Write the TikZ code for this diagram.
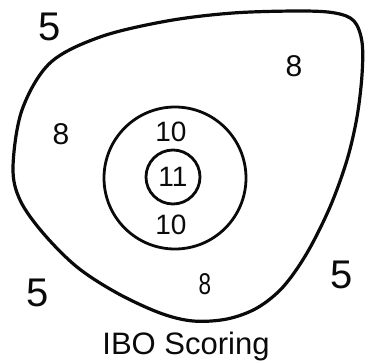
\documentclass[tikz,border=0pt]{standalone}
\usepackage{fontspec}
\setmainfont{Liberation Sans}
\usetikzlibrary{positioning}
\definecolor{inkBlack}{RGB}{10,10,10}
\tikzset{
  rim/.style={draw=inkBlack, line width=3.2pt, line join=round},
  ring/.style={circle, draw=inkBlack, line width=2.8pt, inner sep=0pt},
  bigscore/.style={inner sep=0pt, text=inkBlack, font=\fontsize{40}{40}\selectfont},
  score/.style={inner sep=0pt, text=inkBlack, font=\fontsize{30}{30}\selectfont},
  ringscore/.style={inner sep=0pt, text=inkBlack, font=\fontsize{28}{28}\selectfont},
  caption/.style={inner sep=0pt, text=inkBlack, font=\fontsize{31}{31}\selectfont}
}
\begin{document}
\begin{tikzpicture}[x=1pt, y=-1pt]
\useasboundingbox (0,0) rectangle (365,362);
% outer scoring area
\draw[rim] plot[smooth cycle, tension=0.55] coordinates {
  (13,167) (22,110) (50,63) (100,37) (167,21) (233,13) (300,11) (335,13)
  (354,21) (362,42) (362,75) (357,117) (347,160) (330,207) (307,253)
  (283,287) (257,308) (227,319) (193,321) (160,313) (117,293) (77,267)
  (43,233) (20,200)};
% rings
\node[ring, minimum size=142pt] (ten) at (175,178) {};
\node[ring, minimum size=54pt] (eleven) at (173,177) {};
% scores
\node[ringscore] (s11) at (eleven.center) {11};
\node[ringscore] (s10a) at (171,132) {10};
\node[ringscore] (s10b) at (171,225) {10};
\node[score] (s8a) at (294,66) {8};
\node[score] (s8b) at (61,134) {8};
\node[score, xscale=0.75] (s8c) at (205,284) {8};
\node[bigscore] (s5a) at (50,27) {5};
\node[bigscore] (s5b) at (38,293) {5};
\node[bigscore] (s5c) at (342,275) {5};
\node[caption, anchor=base] (title) at (186,354) {IBO Scoring};
\end{tikzpicture}
\end{document}
